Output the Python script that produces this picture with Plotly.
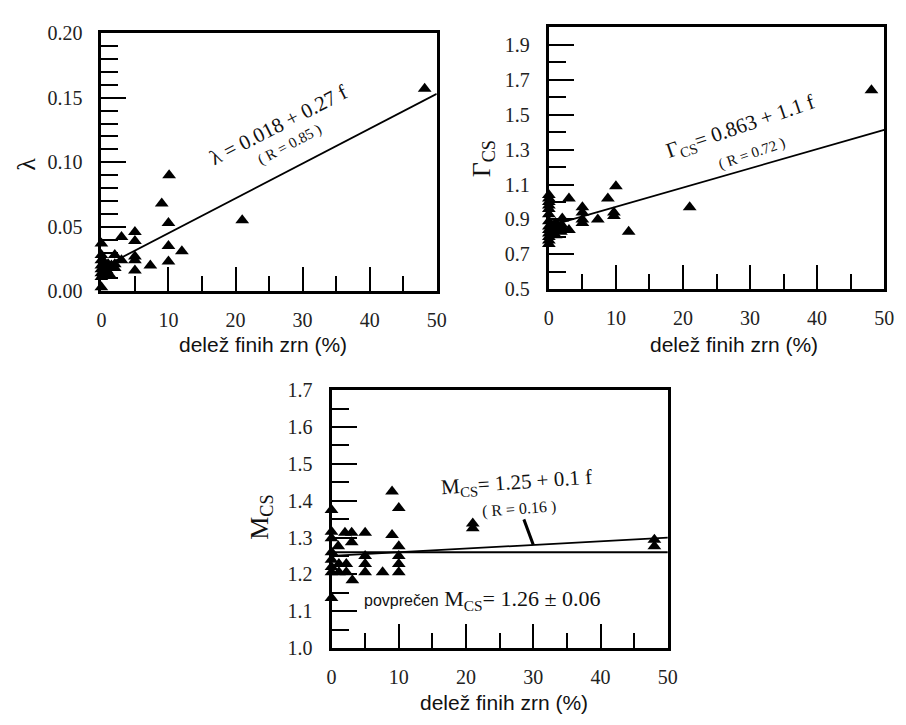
import plotly.graph_objects as go

# ---------------- data ----------------
lam_f = [48.2, 10.1, 9.0, 10.0, 10.0, 10.0, 12.0, 21.0, 7.3, 5.0, 5.0, 5.0, 5.0, 5.0,
         3.0, 3.0, 2.0, 0, 0, 0, 0, 0, 0, 0, 0, 0.3, 0.5, 0.5, 0.8, 1.0, 1.0, 1.2, 1.5, 2.0, 2.0]
lam_v = [0.157, 0.090, 0.068, 0.053, 0.035, 0.023, 0.031, 0.055, 0.020, 0.046, 0.039, 0.027,
         0.024, 0.016, 0.042, 0.024, 0.028, 0.037, 0.003, 0.011, 0.014, 0.017, 0.020, 0.024,
         0.028, 0.013, 0.019, 0.022, 0.016, 0.021, 0.018, 0.013, 0.020, 0.018, 0.021]

gam_f = [48.1, 10.0, 8.8, 9.7, 9.7, 11.9, 21.0, 7.3, 5.0, 5.0, 5.0, 5.0, 3.0, 3.0, 2.0, 1.9,
         0, 0, 0, 0, 0, 0, 0, 0, 0, 0, 0, 0, 0, 0.5, 0.7, 1.0, 1.0, 1.3, 1.5, 1.8, 2.0]
gam_v = [1.64, 1.09, 1.02, 0.94, 0.92, 0.83, 0.97, 0.90, 0.97, 0.94, 0.90, 0.88, 1.02, 0.84,
         0.905, 0.87, 1.04, 1.02, 1.00, 0.98, 0.96, 0.93, 0.89, 0.86, 0.84, 0.82, 0.80, 0.78,
         0.76, 0.83, 0.86, 0.81, 0.88, 0.84, 0.86, 0.83, 0.85]

m_f = [0, 0, 0, 0, 0, 0, 0, 0, 1.0, 1.1, 1.1, 2.0, 2.2, 2.2, 3.0, 3.0, 3.1, 5.0, 5.0, 5.0,
       5.0, 7.6, 9.0, 9.0, 10.0, 10.0, 10.0, 10.0, 10.0, 21.0, 21.0, 48.0, 48.0]
m_v = [1.375, 1.316, 1.298, 1.26, 1.24, 1.22, 1.206, 1.136, 1.276, 1.228, 1.206, 1.313, 1.228,
       1.206, 1.313, 1.287, 1.184, 1.313, 1.25, 1.228, 1.206, 1.206, 1.425, 1.307, 1.38, 1.276,
       1.25, 1.228, 1.206, 1.338, 1.325, 1.294, 1.276]

lam_fit = (0.018, 0.27)   # intercept, slope (f as fraction)
gam_fit = (0.863, 1.1)
m_fit = (1.25, 0.1)
m_mean = 1.26
lam_fit_x = [2, 50]
gam_fit_x = [1, 50]
m_fit_x = [0, 50]

xlabel = "delež finih zrn (%)"

# ---------------- figure ----------------
W, H = 906, 725
SERIF = "Liberation Serif"
SANS = "Liberation Sans"

def px(x):
    return x / W

def py(y):
    return 1 - y / H

fig = go.Figure()

def add_panel(i, fx, fv, fit, fitx):
    xa = "x" if i == 1 else f"x{i}"
    ya = "y" if i == 1 else f"y{i}"
    fig.add_trace(go.Scatter(x=fx, y=fv, mode="markers", xaxis=xa, yaxis=ya,
                             marker=dict(symbol="triangle-up", size=12, color="black"),
                             cliponaxis=False, showlegend=False, hoverinfo="skip"))
    fig.add_trace(go.Scatter(x=fitx, y=[fit[0] + fit[1] * v / 100 for v in fitx],
                             mode="lines", xaxis=xa, yaxis=ya,
                             line=dict(color="black", width=1.8),
                             showlegend=False, hoverinfo="skip"))

add_panel(1, lam_f, lam_v, lam_fit, lam_fit_x)
add_panel(2, gam_f, gam_v, gam_fit, gam_fit_x)
add_panel(3, m_f, m_v, m_fit, m_fit_x)
fig.add_trace(go.Scatter(x=m_fit_x, y=[m_mean] * len(m_fit_x), mode="lines", xaxis="x3", yaxis="y3",
                         line=dict(color="black", width=1.8), showlegend=False, hoverinfo="skip"))

tickfont = dict(family=SERIF, size=20, color="#222")

def xaxis(dom, anchor):
    return dict(domain=dom, anchor=anchor, range=[0, 50], dtick=10, tick0=0,
                ticks="inside", ticklen=24, tickwidth=2, tickcolor="black",
                minor=dict(ticks="inside", dtick=5, ticklen=15, tickwidth=2, tickcolor="black"),
                showline=True, linewidth=3, linecolor="black", mirror=True,
                showgrid=False, zeroline=False, tickfont=tickfont, ticklabelstandoff=9)

def yaxis(dom, anchor, rng, dt, t0, mdt, fmt):
    return dict(domain=dom, anchor=anchor, range=rng, dtick=dt, tick0=t0,
                ticks="inside", ticklen=25, tickwidth=2, tickcolor="black",
                minor=dict(ticks="inside", dtick=mdt, tick0=t0, ticklen=17, tickwidth=2, tickcolor="black"),
                showline=True, linewidth=3, linecolor="black", mirror=True,
                showgrid=False, zeroline=False, tickfont=tickfont, tickformat=fmt,
                ticklabelstandoff=12)

fig.update_layout(
    width=W, height=H, margin=dict(l=0, r=0, t=0, b=0),
    paper_bgcolor="white", plot_bgcolor="white",
    xaxis=xaxis([px(98), px(439)], "y"),
    yaxis=yaxis([py(289), py(23)], "x", [0, 0.2], 0.05, 0, 0.01, ".2f"),
    xaxis2=xaxis([px(553), px(894)], "y2"),
    yaxis2=yaxis([py(287), py(17)], "x2", [0.5, 2.0], 0.2, 0.5, 0.1, ".1f"),
    xaxis3=xaxis([px(332), px(674)], "y3"),
    yaxis3=yaxis([py(657), py(391)], "x3", [1.0, 1.7], 0.1, 1.0, 0.05, ".1f"),
)

ann = []
def A(x, y, text, size, family=SERIF, angle=0, xanchor="center"):
    ann.append(dict(x=px(x), y=py(y), xref="paper", yref="paper", text=text, showarrow=False,
                    font=dict(family=family, size=size, color="#111"), textangle=angle,
                    xanchor=xanchor, yanchor="middle"))

# x-axis titles
A(262, 344, xlabel, 21, SANS)
A(741, 344, xlabel, 21, SANS)
A(507, 713, xlabel, 21, SANS)
# y-axis titles
A(22, 158, "λ", 26, SERIF, -90)
A(486, 152, "Γ<sub>CS</sub>", 26, SERIF, -90)
A(260, 522, "M<sub>CS</sub>", 26, SERIF, -90)
# equations
A(278, 118, "λ = 0.018 + 0.27 f", 21, SERIF, -27)
A(290, 138, "( R = 0.85 )", 15, SERIF, -28)
A(748, 120, "Γ<sub>CS</sub>= 0.863 + 1.1 f", 21, SERIF, -19)
A(760, 147, "( R = 0.72 )", 15, SERIF, -19)
A(520, 487, "M<sub>CS</sub>= 1.25 + 0.1 f", 21, SERIF, -4)
A(523, 514, "( R = 0.16 )", 16, SERIF, -4)
A(363, 607, "<span style='font-family:Liberation Sans;font-size:16px'>povprečen</span> M<sub>CS</sub>= 1.26 ± 0.06",
  22, SERIF, 0, "left")

fig.update_layout(annotations=ann)

# pointer wedge from R label to regression line
fig.add_annotation(x=30, y=m_fit[0] + m_fit[1] * 0.30, xref="x3", yref="y3", text="",
                   showarrow=True, arrowhead=0, arrowwidth=3, arrowcolor="black",
                   ax=-10, ay=-27, standoff=0)

fig.write_html(
    "out.html",
    config={"displayModeBar": False},
    post_script="document.body.style.margin='0';document.documentElement.style.overflow='hidden';document.body.style.overflow='hidden';",
)
